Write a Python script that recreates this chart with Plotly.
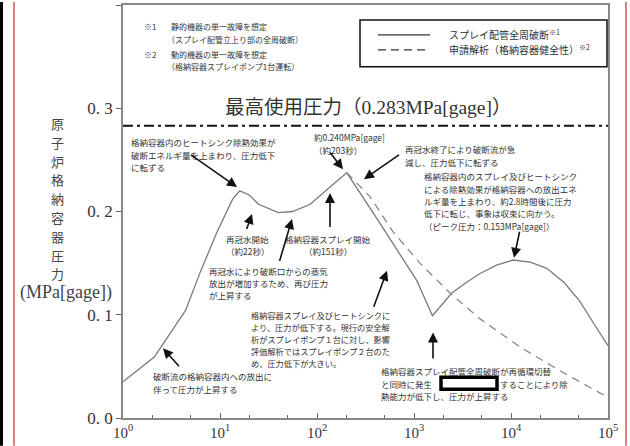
import plotly.graph_objects as go

# ---------------- data ----------------
solid_t = [1, 2.1, 4.4, 6.3, 9.3, 13.5, 16, 20, 25, 40, 56, 85, 145, 203,
           450, 1070, 1550, 2450, 3550, 4800, 7100, 10500, 15800, 23400,
           35500, 51300, 70800, 100000]
solid_p = [0.035, 0.059, 0.104, 0.142, 0.180, 0.212, 0.220, 0.216, 0.207,
           0.199, 0.200, 0.207, 0.226, 0.2375, 0.188, 0.133, 0.099, 0.121,
           0.132, 0.140, 0.148, 0.153, 0.151, 0.145, 0.131, 0.113, 0.092,
           0.070]
dash_t = [203, 355, 600, 1150, 2350, 4800, 12300, 31600, 100000]
dash_p = [0.2375, 0.214, 0.181, 0.150, 0.121, 0.096, 0.069, 0.046, 0.020]

max_pressure = 0.283
y_tickvals = [0.0, 0.1, 0.2, 0.3, 0.4]
y_ticktext = ["0. 0", "0. 1", "0. 2", "0. 3", "0. 4"]
x_tickvals = [1, 10, 100, 1000, 10000, 100000]
x_ticktext = ["10<sup>0</sup>", "10<sup>1</sup>", "10<sup>2</sup>",
              "10<sup>3</sup>", "10<sup>4</sup>", "10<sup>5</sup>"]

legend_names = ["スプレイ配管全周破断<sup>※1</sup>", "申請解析（格納容器健全性）<sup>※2</sup>"]
max_label = "最高使用圧力（0.283MPa[gage]）"
y_title_chars = list("原子炉格納容器圧力")
y_unit = "(MPa[gage])"

# ---------------- layout geometry ----------------
W, H = 630, 446
L, R, T, B = 123, 608, 3, 418


def px(x, y):
    return (x - L) / (R - L), (B - y) / (B - T)


JP = "Noto Sans CJK JP"
SERIF = "Liberation Serif"
TXT = "#333333"

fig = go.Figure()
fig.add_trace(go.Scatter(x=solid_t, y=solid_p, mode="lines",
                         line=dict(color="#7a7a7a", width=1.3),
                         name="solid", showlegend=False))
fig.add_trace(go.Scatter(x=dash_t, y=dash_p, mode="lines",
                         line=dict(color="#8a8a8a", width=1.3, dash="8px,6px"),
                         name="dash", showlegend=False))
fig.add_trace(go.Scatter(x=[1, 100000], y=[max_pressure, max_pressure], mode="lines",
                         line=dict(color="#111111", width=2, dash="10px,4px,3px,4px"),
                         showlegend=False))

annotations = []


def block(lines, x, y_first, size=8.5, spacing=12.4, anchor="left", color=TXT, font=JP):
    for i, s in enumerate(lines):
        xp, yp = px(x, y_first + i * spacing)
        annotations.append(dict(xref="paper", yref="paper", x=xp, y=yp, text=s,
                                showarrow=False, xanchor=anchor, yanchor="middle",
                                borderpad=0,
                                font=dict(family=font, size=size, color=color)))


def arrow(hx, hy, tx, ty):
    xp, yp = px(hx, hy)
    annotations.append(dict(xref="paper", yref="paper", x=xp, y=yp, text="&nbsp;",
                            font=dict(size=2), borderpad=0,
                            showarrow=True, ax=tx - hx, ay=ty - hy,
                            arrowhead=2, arrowsize=1.25, arrowwidth=1.6,
                            arrowcolor="#111111"))


# notes at top-left
block(["※1"], 143, 25, size=8)
block(["静的機器の単一故障を想定"], 170, 25, size=8)
block(["（スプレイ配管立上り部の全周破断）"], 166, 38, size=8)
block(["※2"], 143, 53, size=8)
block(["動的機器の単一故障を想定"], 170, 53, size=8)
block(["（格納容器スプレイポンプ1台運転）"], 166, 65, size=8)

# legend (custom box)
block([legend_names[0]], 448, 33, size=10)
block([legend_names[1]], 448, 48, size=10)

# max pressure label
block([max_label], 368, 106, size=19.5, anchor="center", color="#333333",
      font=SERIF + ", " + JP)

# annotations
block(["格納容器内のヒートシンク除熱効果が", "破断エネルギ量を上まわり、圧力低下", "に転ずる"], 130, 141)
arrow(237, 186, 190, 153)
block(["約0.240MPa[gage]", "（約203秒）"], 313, 136)
arrow(343, 168, 329, 150)
block(["再冠水終了により破断流が急", "減し、圧力低下に転ずる"], 404, 148)
arrow(364, 178, 400, 153)
block(["格納容器内のスプレイ及びヒートシンク", "による除熱効果が格納容器への放出エネ",
       "ルギ量を上まわり、約2.8時間後に圧力", "低下に転じ、事象は収束に向かう。",
       "（ピーク圧力：0.153MPa[gage]）"], 423, 175)
arrow(514, 257, 520, 229)
block(["再冠水開始", "（約22秒）"], 247, 238, anchor="center")
arrow(252, 213, 246, 230)
block(["格納容器スプレイ開始", "（約151秒）"], 328, 238, anchor="center")
arrow(330, 192, 330, 228)
block(["再冠水により破断口からの蒸気", "放出が増加するため、再び圧力", "が上昇する"], 208, 270)
arrow(292, 218, 279, 262)
block(["格納容器スプレイ及びヒートシンクに", "より、圧力が低下する。現行の安全解",
       "析がスプレイポンプ１台に対し、影響", "評価解析ではスプレイポンプ２台のた",
       "め、圧力低下が大きい。"], 250, 315, size=8.2, spacing=12)
arrow(387, 270, 373, 308)
block(["破断流の格納容器内への放出に", "伴って圧力が上昇する"], 152, 376)
arrow(163, 348, 180, 367)
block(["格納容器スプレイ配管全周破断が再循環切替", "と同時に発生　　　　　　　　することにより除",
       "熱能力が低下し、圧力が上昇する"], 380, 371)
arrow(433, 332, 433, 360)

# y axis title (vertical, one character per line)
block(y_title_chars, 57, 122, size=13, spacing=18.9, anchor="center", color="#444444")
block([y_unit], 66, 292, size=18, anchor="center", color="#444444", font=SERIF)

shapes = []
# legend box and samples
x0, y0 = px(360, 18)
x1, y1 = px(607, 65)
shapes.append(dict(type="rect", xref="paper", yref="paper", x0=x0, y0=y0, x1=x1, y1=y1,
                   line=dict(color="#111111", width=1.5), fillcolor="white", layer="below"))
a0, b0 = px(378, 33)
a1, _ = px(430, 33)
shapes.append(dict(type="line", xref="paper", yref="paper", x0=a0, y0=b0, x1=a1, y1=b0,
                   line=dict(color="#333333", width=1.3)))
a0, b0 = px(378, 48)
shapes.append(dict(type="line", xref="paper", yref="paper", x0=a0, y0=b0, x1=a1, y1=b0,
                   line=dict(color="#333333", width=1.3, dash="8px,5px")))
# masking box in the bottom annotation
x0, y0 = px(441, 377)
x1, y1 = px(497, 389)
shapes.append(dict(type="rect", xref="paper", yref="paper", x0=x0, y0=y0, x1=x1, y1=y1,
                   line=dict(color="#000000", width=3.5), fillcolor="white"))
# page decorations
for xx, col, wd in [(1.5, "#000000", 3), (14, "#d98080", 2), (626, "#d98080", 2)]:
    xp, _ = px(xx, 0)
    shapes.append(dict(type="line", xref="paper", yref="paper", x0=xp, x1=xp,
                       y0=px(0, H)[1], y1=px(0, 0)[1], line=dict(color=col, width=wd)))

fig.update_layout(
    width=W, height=H,
    margin=dict(l=L, r=W - R, t=T, b=H - B),
    paper_bgcolor="white", plot_bgcolor="white",
    showlegend=False,
    annotations=annotations, shapes=shapes,
    xaxis=dict(type="log", range=[0, 5], tickvals=x_tickvals, ticktext=x_ticktext,
               showgrid=False, zeroline=False, showline=True, linecolor="#888888",
               linewidth=1.5, mirror=True, ticks="inside", ticklen=5, tickcolor="#666666",
               minor=dict(ticks="inside", ticklen=3, tickcolor="#666666", showgrid=False),
               tickfont=dict(family=SERIF, size=15, color="#333333")),
    yaxis=dict(range=[0, 0.4], tickvals=y_tickvals, ticktext=y_ticktext,
               showgrid=False, zeroline=False, showline=True, linecolor="#888888",
               linewidth=1.5, mirror=True, ticks="outside", ticklen=5, tickcolor="#666666",
               tickfont=dict(family=SERIF, size=17, color="#333333")),
)

fig.write_html("out.html", config={"displayModeBar": False},
               post_script="document.body.style.margin='0';document.body.style.overflow='hidden';")
